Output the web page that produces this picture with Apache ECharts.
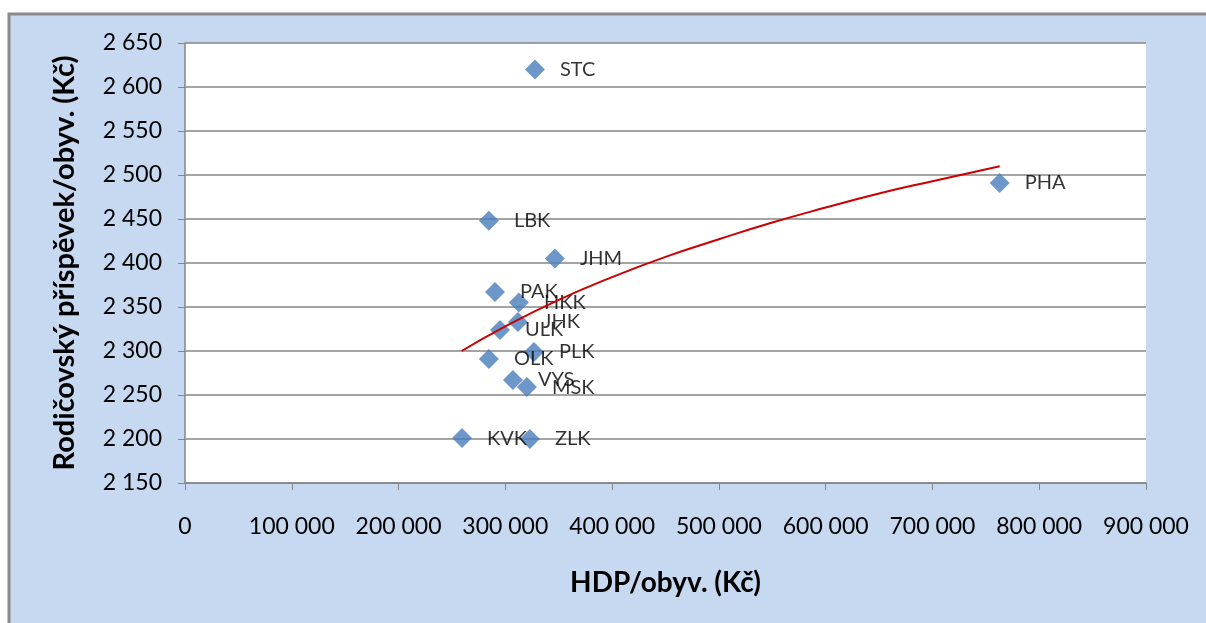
<!DOCTYPE html>
<html>
<head>
<meta charset="utf-8">
<script src="https://cdn.jsdelivr.net/npm/echarts@6/dist/echarts.min.js"></script>
<style>
  html, body { margin: 0; padding: 0; background: #fff; }
  #chart { width: 1206px; height: 623px; }
</style>
</head>
<body>
<div id="chart"></div>
<script>
// kraje
var regions = ["STC", "PHA", "LBK", "JHM", "PAK", "HKK", "JHK", "ULK", "PLK", "OLK", "VYS", "MSK", "KVK", "ZLK"];
var hdp = [327700, 763000, 284600, 346400, 290300, 312700, 311800, 295000, 326800, 284600, 307100, 320200, 259400, 323000];
var prispevek = [2620, 2491, 2448, 2405, 2367, 2355, 2333, 2324, 2299, 2291, 2267, 2259, 2201, 2200];

// spojnice trendu
var trendX = [259100, 300000, 350000, 400000, 450000, 500000, 550000, 600000, 650000, 700000, 763000];
var trendY = [2300, 2328, 2358, 2384, 2407, 2427, 2446, 2463, 2479, 2493, 2510];

var fmt = function (v) {
  return String(v).replace(/\B(?=(\d{3})+(?!\d))/g, " ");
};

var points = regions.map(function (r, i) {
  return { name: r, value: [hdp[i], prispevek[i]] };
});
var trend = trendX.map(function (x, i) {
  return [x, trendY[i]];
});

var myecharts = echarts.init(document.getElementById("chart"));
myecharts.setOption({
  animation: false,
  textStyle: { fontFamily: "Lato" },
  graphic: [
    {
      type: "rect",
      z: -10,
      shape: { x: 9, y: 14, width: 1210, height: 620 },
      style: { fill: "#c6d9f0", stroke: "#8a8a8a", lineWidth: 3 },
    },
  ],
  grid: {
    left: 185,
    top: 43,
    right: 60,
    bottom: 140,
    show: true,
    backgroundColor: "#ffffff",
    borderWidth: 0,
  },
  xAxis: {
    type: "value",
    min: 0,
    max: 900000,
    interval: 100000,
    name: "HDP/obyv. (Kč)",
    nameLocation: "middle",
    nameGap: 86,
    nameTextStyle: { fontSize: 28, fontWeight: "bold", color: "#000", fontFamily: "Lato" },
    axisLine: { show: true, lineStyle: { color: "#868686", width: 1.5 } },
    axisTick: { show: true, inside: false, length: 7, lineStyle: { color: "#868686" } },
    axisLabel: { fontSize: 23, color: "#000", margin: 32, formatter: fmt },
    splitLine: { show: false },
  },
  yAxis: {
    type: "value",
    min: 2150,
    max: 2650,
    interval: 50,
    name: "Rodičovský příspěvek/obyv. (Kč)",
    nameLocation: "middle",
    nameGap: 106,
    nameTextStyle: { fontSize: 29, fontWeight: "bold", color: "#000", fontFamily: "Lato" },
    axisLine: { show: true, lineStyle: { color: "#868686", width: 1.5 } },
    axisTick: { show: true, inside: false, length: 7, lineStyle: { color: "#868686" } },
    axisLabel: { fontSize: 23, color: "#000", margin: 23, formatter: fmt },
    splitLine: { show: true, lineStyle: { color: "#868686", width: 1.5 } },
  },
  series: [
    {
      name: "trend",
      type: "line",
      data: trend,
      smooth: true,
      showSymbol: false,
      lineStyle: { color: "#cc0000", width: 2 },
      z: 3,
    },
    {
      name: "kraje",
      type: "scatter",
      data: points,
      symbol: "diamond",
      symbolSize: [20, 20],
      itemStyle: { color: "#4a7dbb" },
      label: {
        show: true,
        position: "right",
        distance: 15,
        fontSize: 20,
        color: "#000",
        formatter: function (p) {
          return p.name;
        },
      },
      z: 2,
    },
  ],
});
</script>
</body>
</html>
